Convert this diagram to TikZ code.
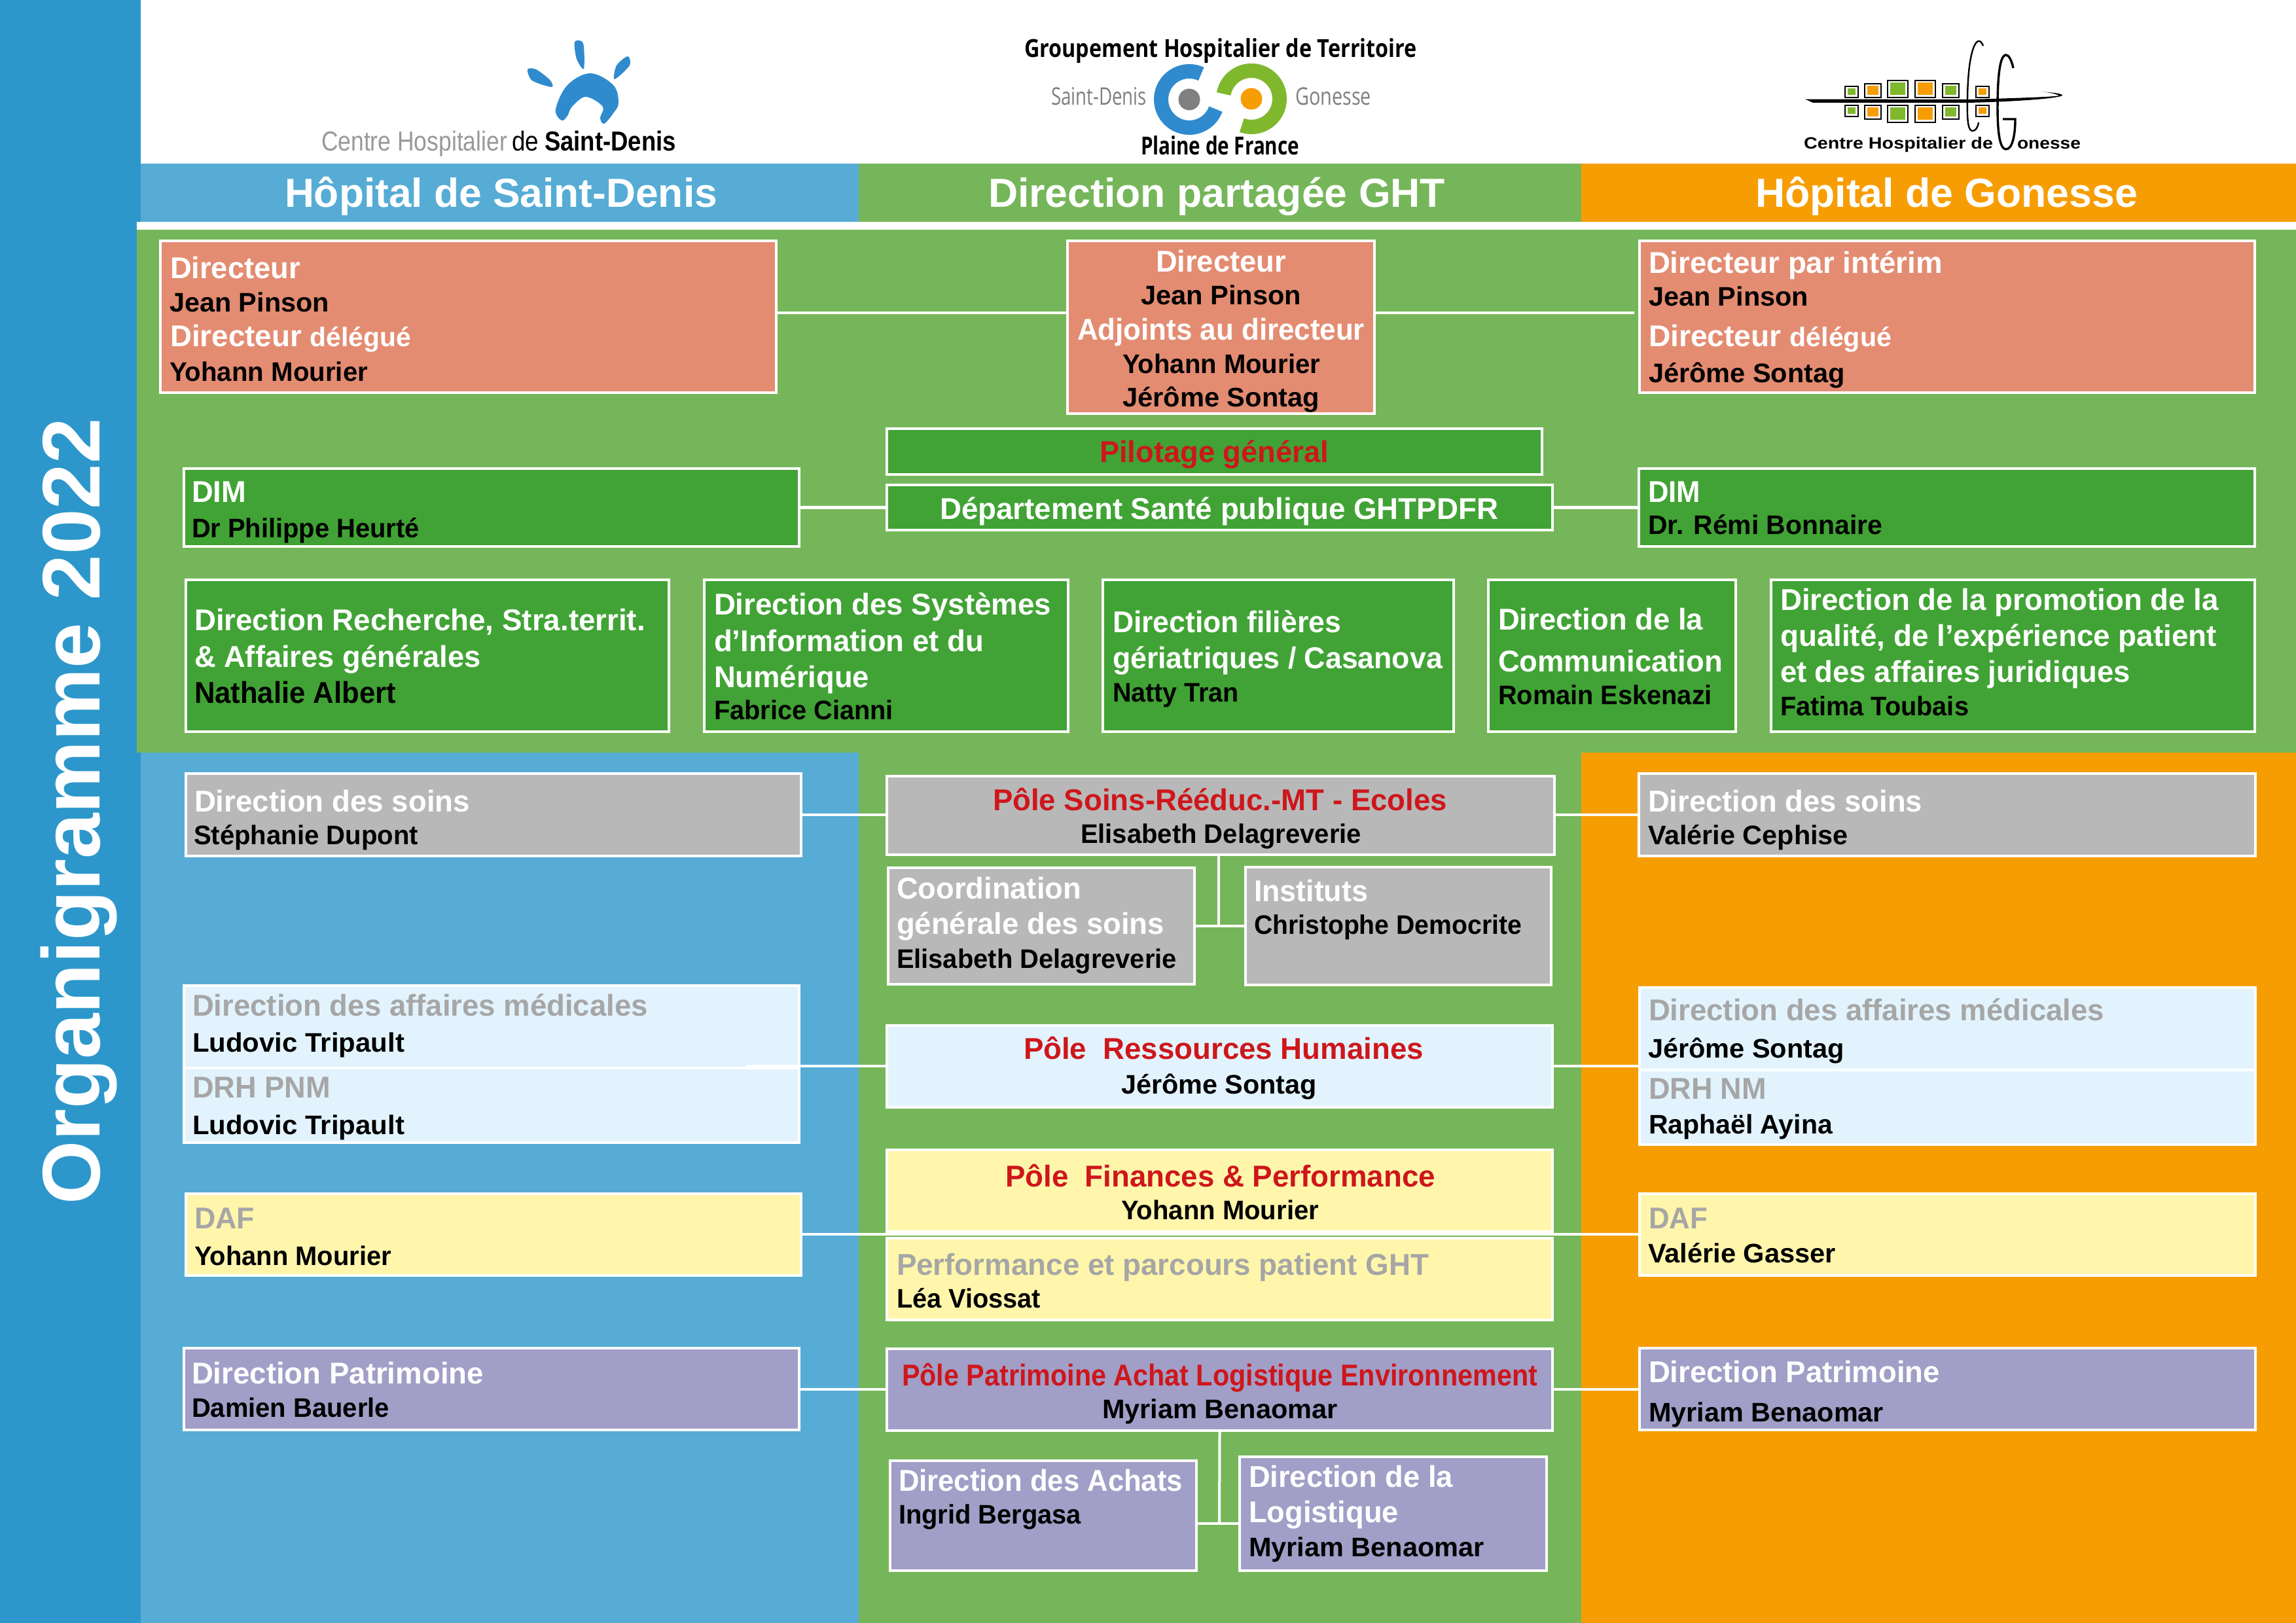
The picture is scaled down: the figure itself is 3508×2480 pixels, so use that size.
\documentclass[tikz,border=0pt]{standalone}
\usepackage{fontspec}
\usepackage{graphicx}
\setmainfont{Liberation Sans}
\newfontfamily\opensans{Open Sans}
\definecolor{sidebar}{HTML}{2D97CB}
\definecolor{colblue}{HTML}{56ACD5}
\definecolor{colgreen}{HTML}{76B65A}
\definecolor{colorange}{HTML}{F79D04}
\definecolor{salmon}{HTML}{E38C72}
\definecolor{dkgreen}{HTML}{41A335}
\definecolor{boxgrey}{HTML}{B8B8B8}
\definecolor{ltblue}{HTML}{E2F3FE}
\definecolor{boxyellow}{HTML}{FFF6AC}
\definecolor{boxpurple}{HTML}{A19EC7}
\definecolor{polered}{HTML}{CE161B}
\definecolor{txtgrey}{HTML}{A6A6A6}
\definecolor{logoblue}{HTML}{2F8BCE}
\definecolor{logogreen}{HTML}{7FB82D}
\newsavebox\tlbox
\newlength\tlw
% name, left x, baseline y, target width, font size, colour, text
\newcommand\tl[7]{%
  \pgfinterruptpicture
  \global\setbox\tlbox=\hbox{\fontsize{#5}{#5}\selectfont\bfseries #7}%
  \endpgfinterruptpicture
  \setlength\tlw{\wd\tlbox}%
  \pgfmathsetmacro\tlsx{#4/\tlw}%
  \node[txt,name=#1,text=#6] at (#2,#3) {\scalebox{\tlsx}[1]{\fontsize{#5}{#5}\selectfont\bfseries #7}};}
% name, x1, y1, x2, y2, fill
\newcommand\bx[6]{%
  \node[orgbox,name=#1,fill=#6,minimum width={(#4-#2-4)*1pt},minimum height={(#5-#3-4)*1pt}] at ({(#2+#4)/2},{(#3+#5)/2}) {};}
\newcommand\sq[5]{%
  \draw[black,line width=1.8,fill=white] (#1,#2) rectangle (#3,#4);
  \fill[#5] (#1+4,#2+3.5) rectangle (#3-4,#4-3.5);}
\newcommand\smd{\fontsize{41}{41}\selectfont}
\tikzset{
  orgbox/.style={draw=white,line width=4,inner sep=0,rectangle},
  txt/.style={anchor=base west,inner sep=0,outer sep=0},
  link/.style={draw=white,line width=4.5},
  linkthin/.style={draw=white,line width=4}
}
\begin{document}
\begin{tikzpicture}[x=1pt,y=-1pt]
\useasboundingbox (0,0) rectangle (3508,2480);
% backgrounds
\fill[white] (0,0) rectangle (3508,2480);
\fill[sidebar] (0,0) rectangle (215,2480);
\fill[colblue] (215,1150) rectangle (1312,2480);
\fill[colgreen] (1312,1150) rectangle (2416,2480);
\fill[colorange] (2416,1150) rectangle (3508,2480);
\fill[white] (209,339) rectangle (3508,351);
\fill[colgreen] (209,351) rectangle (3508,1150);
\fill[colblue] (215,250) rectangle (1312,339);
\fill[colgreen] (1312,250) rectangle (2416,339);
\fill[colorange] (2416,250) rectangle (3508,339);
\node[rotate=90,anchor=base west,inner sep=0,text=white,name=sidetitle] at (152,1841) {\fontsize{125}{125}\selectfont\bfseries Organigramme 2022};
% logo Saint-Denis
\fill[logoblue] plot[smooth cycle,tension=0.6] coordinates {(858,184) (849,167) (867,130) (902,112) (937,130) (945,157) (937,173) (923,189) (917,180) (921,163) (895,148) (874,163) (867,177)};
\fill[logoblue] plot[smooth cycle,tension=0.5] coordinates {(878,64) (891,66) (892,105) (881,90)};
\fill[logoblue] plot[smooth cycle,tension=0.5] coordinates {(806,106) (819,106) (840,122) (843,133) (813,123)};
\fill[logoblue] plot[smooth cycle,tension=0.5] coordinates {(959,86) (962,100) (939,121) (942,100)};
\tl{lsdA}{491}{231}{284}{42}{black!40}{\mdseries Centre Hospitalier}
\tl{lsdB}{782}{231}{41}{42}{black}{\mdseries de}
\tl{lsdC}{832}{231}{201}{42}{black}{Saint-Denis}
% logo GHT
\draw[logoblue,line width=22] plot[domain=65:340,samples=60] ({1817+43*cos(\x)},{152-43*sin(\x)});
\draw[logogreen,line width=22] plot[domain=-110:170,samples=60] ({1912+43*cos(\x)},{151-43*sin(\x)});
\fill[black!50] (1817,152) circle[radius=16.5];
\fill[colorange] (1912,151) circle[radius=16.5];
\tl{ghtA}{1565}{88}{600}{38}{black}{\opensans\bfseries Groupement Hospitalier de Territoire}
\tl{ghtB}{1606}{161}{146}{37}{black!50}{\opensans\mdseries Saint-Denis}
\tl{ghtC}{1979}{161}{116}{37}{black!50}{\opensans\mdseries Gonesse}
\tl{ghtD}{1743}{237}{242}{38}{black}{\opensans\bfseries Plaine de France}
% logo Gonesse
\sq{2819}{132}{2839}{149}{logogreen}
\sq{2849}{128}{2874}{149}{colorange}
\sq{2884}{123}{2915}{149}{logogreen}
\sq{2926}{123}{2957}{149}{colorange}
\sq{2968}{128}{2993}{149}{logogreen}
\sq{3019}{132}{3039}{149}{colorange}
\sq{2819}{161}{2839}{178}{logogreen}
\sq{2849}{161}{2874}{182}{colorange}
\sq{2884}{161}{2915}{187}{logogreen}
\sq{2926}{161}{2957}{187}{colorange}
\sq{2968}{161}{2993}{182}{logogreen}
\sq{3019}{161}{3039}{178}{colorange}
\fill[black] (2758,151.5) -- (3007,152) .. controls (3080,150) and (3140,148) .. (3146,146) .. controls (3140,143) and (3130,141) .. (3119,140.5) .. controls (3135,141) and (3152,143) .. (3151,146) .. controls (3145,150) and (3090,155) .. (3007,157) -- (2770,157) -- cycle;
\draw[black,line width=2.4] (3030,70) .. controls (3022,50) and (3007,70) .. (3006,150) .. controls (3005,190) and (3008,200) .. (3014,200) .. controls (3018,200) and (3022,195) .. (3023,187);
\draw[black,line width=3.4] (3076,104) .. controls (3073,90) and (3068,83) .. (3064,84) .. controls (3055,86) and (3052,120) .. (3052,165) .. controls (3052,215) and (3058,228) .. (3065,228) .. controls (3075,228) and (3079,205) .. (3079,182) -- (3060,182);
\tl{lgoA}{2756}{228}{289}{25}{black}{Centre Hospitalier de}
\tl{lgoB}{3082}{228}{97}{25}{black}{onesse}
% header titles
\tl{headA}{435}{317}{661}{62}{white}{Hôpital de Saint-Denis}
\tl{headB}{1510}{317}{698}{62}{white}{Direction partagée GHT}
\tl{headC}{2682}{317}{584}{62}{white}{Hôpital de Gonesse}
% directors
\bx{dirL}{243}{366}{1188}{602}{salmon}
\bx{dirC}{1629}{366}{2102}{634}{salmon}
\bx{dirR}{2503}{366}{3447}{602}{salmon}
\tl{dla}{260}{425}{199}{46}{white}{Directeur}
\tl{dlb}{259}{476}{244}{41}{black}{Jean Pinson}
\tl{dlc}{260}{529}{368}{46}{white}{Directeur {\smd délégué}}
\tl{dld}{259}{582}{303}{41}{black}{Yohann Mourier}
\tl{dca}{1766}{415}{199}{46}{white}{Directeur}
\tl{dcb}{1743}{465}{245}{41}{black}{Jean Pinson}
\tl{dcc}{1646}{519}{439}{46}{white}{Adjoints au directeur}
\tl{dcd}{1715}{570}{302}{41}{black}{Yohann Mourier}
\tl{dce}{1715}{621}{301}{41}{black}{Jérôme Sontag}
\tl{dra}{2519}{417}{449}{46}{white}{Directeur par intérim}
\tl{drb}{2519}{467}{244}{41}{black}{Jean Pinson}
\tl{drc}{2519}{529}{371}{46}{white}{Directeur {\smd délégué}}
\tl{drd}{2519}{584}{300}{41}{black}{Jérôme Sontag}
% pilotage, DIM
\bx{pilot}{1353}{653}{2358}{727}{dkgreen}
\bx{dept}{1353}{739}{2374}{812}{dkgreen}
\bx{dimL}{279}{714}{1223}{837}{dkgreen}
\bx{dimR}{2502}{714}{3447}{837}{dkgreen}
\tl{pa}{1680}{706}{350}{46}{polered}{Pilotage général}
\tl{pb}{1436}{793}{853}{46}{white}{Département Santé publique GHTPDFR}
\tl{dima}{293}{767}{83}{46}{white}{DIM}
\tl{dimb}{293}{821}{348}{41}{black}{Dr Philippe Heurté}
\tl{dimc}{2518}{767}{80}{46}{white}{DIM}
\tl{dimd}{2518}{816}{358}{41}{black}{Dr. Rémi Bonnaire}
% row of directions
\bx{rA}{282}{884}{1024}{1120}{dkgreen}
\bx{rB}{1074}{884}{1634}{1120}{dkgreen}
\bx{rC}{1683}{884}{2223}{1120}{dkgreen}
\bx{rD}{2272}{884}{2654}{1120}{dkgreen}
\bx{rE}{2704}{884}{3447}{1120}{dkgreen}
\tl{raa}{297}{963}{689}{46}{white}{Direction Recherche, Stra.territ.}
\tl{rab}{297}{1019}{438}{46}{white}{\& Affaires générales}
\tl{rac}{297}{1074}{308}{46}{black}{Nathalie Albert}
\tl{rba}{1091}{939}{515}{46}{white}{Direction des Systèmes}
\tl{rbb}{1091}{995}{412}{46}{white}{d’Information et du}
\tl{rbc}{1091}{1050}{237}{46}{white}{Numérique}
\tl{rbd}{1091}{1099}{274}{41}{black}{Fabrice Cianni}
\tl{rca}{1700}{966}{349}{46}{white}{Direction filières}
\tl{rcb}{1700}{1021}{504}{46}{white}{gériatriques / Casanova}
\tl{rcc}{1700}{1072}{193}{41}{black}{Natty Tran}
\tl{rda}{2289}{962}{313}{46}{white}{Direction de la}
\tl{rdb}{2289}{1026}{343}{46}{white}{Communication}
\tl{rdc}{2289}{1076}{327}{41}{black}{Romain Eskenazi}
\tl{rea}{2720}{932}{670}{46}{white}{Direction de la promotion de la}
\tl{reb}{2720}{987}{667}{46}{white}{qualité, de l’expérience patient}
\tl{rec}{2720}{1042}{535}{46}{white}{et des affaires juridiques}
\tl{red}{2720}{1093}{288}{41}{black}{Fatima Toubais}
% soins
\bx{soinL}{282}{1180}{1226}{1310}{boxgrey}
\bx{soinC}{1353}{1184}{2377}{1308}{boxgrey}
\bx{soinR}{2502}{1180}{3448}{1310}{boxgrey}
\bx{coord}{1355}{1324}{1827}{1506}{boxgrey}
\bx{inst}{1901}{1323}{2372}{1507}{boxgrey}
\tl{sla}{297}{1240}{421}{46}{white}{Direction des soins}
\tl{slb}{296}{1290}{343}{41}{black}{Stéphanie Dupont}
\tl{sca}{1517}{1238}{694}{46}{polered}{Pôle Soins-Rééduc.-MT - Ecoles}
\tl{scb}{1651}{1288}{429}{41}{black}{Elisabeth Delagreverie}
\tl{sra}{2518}{1240}{419}{46}{white}{Direction des soins}
\tl{srb}{2518}{1290}{306}{41}{black}{Valérie Cephise}
\tl{coa}{1370}{1373}{282}{46}{white}{Coordination}
\tl{cob}{1370}{1427}{409}{46}{white}{générale des soins}
\tl{coc}{1370}{1479}{428}{41}{black}{Elisabeth Delagreverie}
\tl{ina}{1916}{1377}{174}{46}{white}{Instituts}
\tl{inb}{1916}{1427}{409}{41}{black}{Christophe Democrite}
% RH
\bx{affL}{279}{1504}{1223}{1634}{ltblue}
\bx{drhL}{279}{1630}{1223}{1748}{ltblue}
\bx{rhC}{1353}{1565}{2374}{1694}{ltblue}
\bx{affR}{2503}{1507}{3448}{1637}{ltblue}
\bx{drhR}{2503}{1633}{3448}{1751}{ltblue}
\tl{ala}{294}{1552}{696}{46}{txtgrey}{Direction des affaires médicales}
\tl{alb}{294}{1607}{324}{41}{black}{Ludovic Tripault}
\tl{alc}{294}{1677}{211}{46}{txtgrey}{DRH PNM}
\tl{ald}{294}{1733}{324}{41}{black}{Ludovic Tripault}
\tl{rha}{1564}{1618}{611}{46}{polered}{Pôle\ \ Ressources Humaines}
\tl{rhb}{1713}{1671}{299}{41}{black}{Jérôme Sontag}
\tl{ara}{2519}{1559}{696}{46}{txtgrey}{Direction des affaires médicales}
\tl{arb}{2518}{1616}{300}{41}{black}{Jérôme Sontag}
\tl{arc}{2519}{1679}{180}{46}{txtgrey}{DRH NM}
\tl{ard}{2519}{1732}{281}{41}{black}{Raphaël Ayina}
% finances
\bx{dafL}{282}{1822}{1226}{1951}{boxyellow}
\bx{finC}{1353}{1755}{2374}{1884}{boxyellow}
\bx{perfC}{1353}{1890}{2374}{2019}{boxyellow}
\bx{dafR}{2503}{1822}{3448}{1951}{boxyellow}
\tl{fla}{297}{1877}{92}{46}{txtgrey}{DAF}
\tl{flb}{297}{1933}{301}{41}{black}{Yohann Mourier}
\tl{fca}{1536}{1813}{657}{46}{polered}{Pôle\ \ Finances \& Performance}
\tl{fcb}{1713}{1863}{302}{41}{black}{Yohann Mourier}
\tl{pca}{1370}{1948}{813}{46}{txtgrey}{Performance et parcours patient GHT}
\tl{pcb}{1370}{1998}{220}{41}{black}{Léa Viossat}
\tl{fra}{2519}{1877}{90}{46}{txtgrey}{DAF}
\tl{frb}{2518}{1929}{287}{41}{black}{Valérie Gasser}
% patrimoine
\bx{patL}{279}{2058}{1223}{2187}{boxpurple}
\bx{patC}{1353}{2059}{2374}{2188}{boxpurple}
\bx{patR}{2503}{2058}{3448}{2187}{boxpurple}
\bx{ach}{1358}{2230}{1830}{2402}{boxpurple}
\bx{logi}{1892}{2224}{2365}{2402}{boxpurple}
\tl{pla}{293}{2114}{446}{46}{white}{Direction Patrimoine}
\tl{plb}{293}{2165}{302}{41}{black}{Damien Bauerle}
\tl{paa}{1378}{2117}{971}{46}{polered}{Pôle Patrimoine Achat Logistique Environnement}
\tl{pab}{1684}{2167}{360}{41}{black}{Myriam Benaomar}
\tl{pra}{2519}{2112}{445}{46}{white}{Direction Patrimoine}
\tl{prb}{2519}{2172}{359}{41}{black}{Myriam Benaomar}
\tl{aca}{1373}{2278}{434}{46}{white}{Direction des Achats}
\tl{acb}{1373}{2328}{279}{41}{black}{Ingrid Bergasa}
\tl{loa}{1908}{2272}{312}{46}{white}{Direction de la}
\tl{lob}{1908}{2326}{229}{46}{white}{Logistique}
\tl{loc}{1908}{2378}{360}{41}{black}{Myriam Benaomar}
% connectors
\coordinate (yDir) at (0,478);
\coordinate (dirEnd) at (2497,478);
\coordinate (rhStart) at (1141,1629);
\coordinate (jS) at (1862,1415);
\coordinate (jP) at (1863,2328);
\coordinate (yFin) at (0,1886);
\coordinate (ySoin) at (0,1245);
\coordinate (yPat) at (0,2123);
\draw[link] (dirL.east |- yDir) -- (dirC.west |- yDir);
\draw[link] (dirC.east |- yDir) -- (dirEnd);
\draw[link] (dimL.east) -- (dept.west);
\draw[link] (dept.east) -- (dimR.west);
\draw[linkthin] (soinL.east |- ySoin) -- (soinC.west |- ySoin);
\draw[linkthin] (soinC.east |- ySoin) -- (soinR.west |- ySoin);
\draw[linkthin] (soinC.south -| jS) -- (jS);
\draw[linkthin] (coord.east) -- (inst.west);
\draw[linkthin] (rhStart) -- (rhC.west |- rhStart);
\draw[linkthin] (rhC.east |- rhStart) -- (affR.west |- rhStart);
\draw[linkthin] (dafL.east |- yFin) -- (dafR.west |- yFin);
\draw[linkthin] (patL.east |- yPat) -- (patC.west |- yPat);
\draw[linkthin] (patC.east |- yPat) -- (patR.west |- yPat);
\draw[linkthin] (patC.south) -- (jP);
\draw[linkthin] (ach.east |- jP) -- (logi.west |- jP);
\end{tikzpicture}
\end{document}
